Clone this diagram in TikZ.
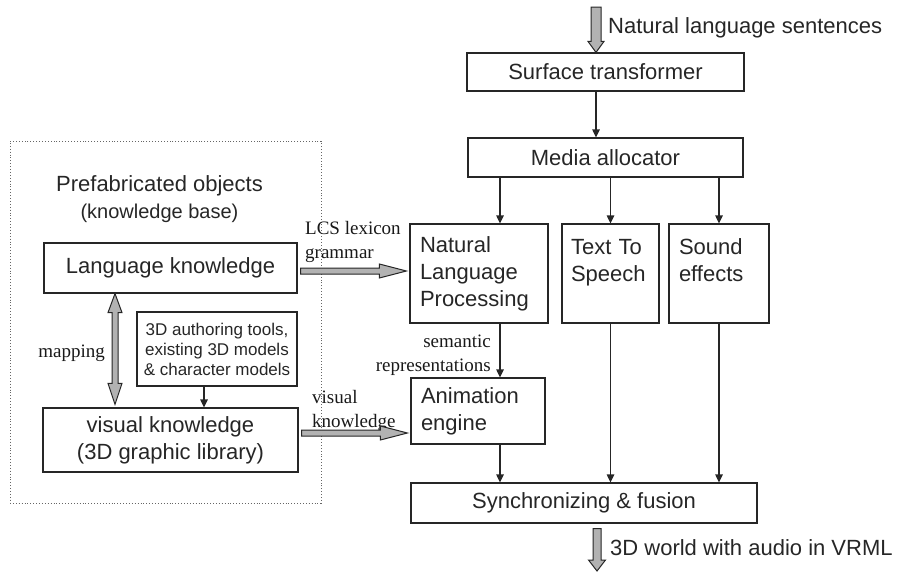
\documentclass[tikz,border=0pt]{standalone}
\usepackage{fontspec}
\setmainfont{Liberation Sans}
\newfontfamily\labelserif{Liberation Serif}
\usetikzlibrary{calc,arrows.meta}

% fat outlined arrow pointing down: start, tip, shaft half-width, head half-width, head length
\newcommand\fatdown[5]{%
  \filldraw[fat] ($(#1)+(-#3,0)$) -- ($(#2)+(-#3,-#5)$) -- ($(#2)+(-#4,-#5)$) -- (#2)
    -- ($(#2)+(#4,-#5)$) -- ($(#2)+(#3,-#5)$) -- ($(#1)+(#3,0)$) -- cycle;}
% fat outlined arrow pointing right
\newcommand\fatright[5]{%
  \filldraw[fat] ($(#1)+(0,-#3)$) -- ($(#2)+(-#5,-#3)$) -- ($(#2)+(-#5,-#4)$) -- (#2)
    -- ($(#2)+(-#5,#4)$) -- ($(#2)+(-#5,#3)$) -- ($(#1)+(0,#3)$) -- cycle;}

\begin{document}
\begin{tikzpicture}[x=1pt,y=-1pt,
  box/.style={draw=black!85, line width=1.2pt, inner sep=0pt,
    font=\fontsize{22}{27}\selectfont, text=black!85},
  lbox/.style={box, align=left, inner xsep=10pt, inner ysep=0pt},
  small/.style={font=\fontsize{17}{20}\selectfont},
  lab/.style={inner sep=0pt, font=\labelserif\fontsize{19}{24}\selectfont, text=black!90},
  plain/.style={inner sep=0pt, font=\fontsize{22}{27}\selectfont, text=black!85},
  conn/.style={draw=black!85, line width=1.2pt, -{Triangle[length=8pt,width=7.5pt]}},
  fat/.style={draw=black!85, line width=1pt, fill=black!30, line join=miter},
  frame/.style={draw=black!60, dotted, line width=0.9pt, inner sep=0pt}]
\useasboundingbox (0,0) rectangle (897,573);

% knowledge base frame
\node[frame, minimum width=311, minimum height=362] (kb) at (165.5,322) {};
\node[plain, align=center] (kbtitle) at (159.5,199.5)
  {Prefabricated objects\\{\fontsize{20}{24}\selectfont(knowledge base)}};

% left column
\node[box, minimum width=253, minimum height=50] (lk) at (170.5,268) {Language knowledge};
\node[box, small, align=center, minimum width=160, minimum height=74] (auth) at (217,349)
  {3D authoring tools,\\existing 3D models\\\& character models};
\node[box, align=center, minimum width=255, minimum height=64] (vk) at (170.5,440)
  {visual knowledge\\(3D graphic library)};

% right column
\node[box, minimum width=277, minimum height=38] (st) at (605.5,72) {Surface transformer};
\node[box, minimum width=275, minimum height=39] (ma) at (605.5,157.5) {Media allocator};
\node[lbox, text width=118, minimum height=99] (nlp) at (479,273.5)
  {Natural\\Language\\Processing};
\node[lbox, inner xsep=9pt, text width=79, minimum height=99] (tts) at (610.5,273.5)
  {Text To\\Speech\\~};
\node[lbox, text width=80, minimum height=99] (sfx) at (719,273.5)
  {Sound\\effects\\~};
\node[lbox, text width=114, minimum height=66] (ae) at (478,411)
  {Animation\\engine};
\node[box, minimum width=346, minimum height=40] (sync) at (584,503)
  {Synchronizing \& fusion};

% input and output labels
\node[plain, anchor=west] (inlab) at (608,28) {Natural language sentences};
\node[plain, anchor=west] (outlab) at (610,548) {3D world with audio in VRML};

% connector labels
\node[lab, anchor=west, align=left] (lcslab) at (305,242) {LCS lexicon\\grammar};
\node[lab, anchor=west, align=left] (vislab) at (312,411) {visual\\knowledge};
\node[lab, anchor=east] (maplab) at (105,353) {mapping};
\node[lab, anchor=east, align=right] (semlab) at (491,355) {semantic\\representations};

% x positions of the vertical connectors
\coordinate (inX) at (596,0);
\coordinate (nlpX) at (500,0);
\coordinate (authX) at (204,0);
\coordinate (mapX) at (115,0);
\coordinate (outX) at (597,0);

% thin connectors
\draw[conn] (st.south -| inX) -- (ma.north -| inX);
\draw[conn] (ma.south -| nlpX) -- (nlp.north -| nlpX);
\draw[conn] (ma.south -| tts) -- (tts.north);
\draw[conn] (ma.south -| sfx) -- (sfx.north);
\draw[conn] (nlp.south -| nlpX) -- (ae.north -| nlpX);
\draw[conn] (ae.south -| nlpX) -- (sync.north -| nlpX);
\draw[conn] (tts.south) -- (sync.north -| tts);
\draw[conn] (sfx.south) -- (sync.north -| sfx);
\draw[conn] (auth.south -| authX) -- (vk.north -| authX);

% fat input / output arrows
\coordinate (inA) at (596,7);
\coordinate (inB) at (st.north -| inA);
\fatdown{inA}{inB}{5}{8}{11}
\coordinate (outA) at ($(sync.south -| outX)+(0,5)$);
\coordinate (outB) at (597,571);
\fatdown{outA}{outB}{4}{8.5}{11}

% fat knowledge arrows
\coordinate (lcsA) at ($(lk.east)+(3,3)$);
\coordinate (lcsB) at ($(nlp.west |- lcsA)+(-3,0)$);
\fatright{lcsA}{lcsB}{3}{7}{27}
\coordinate (visA) at ($(vk.east)+(3,-7)$);
\coordinate (visB) at ($(ae.west |- visA)+(-3,0)$);
\fatright{visA}{visB}{3}{7}{27}

% double-headed mapping arrow
\coordinate (mapT) at (lk.south -| mapX);
\coordinate (mapB) at ($(vk.north -| mapX)+(0,-3)$);
\filldraw[fat] (mapT) -- ($(mapT)+(7,19)$) -- ($(mapT)+(3,19)$) -- ($(mapB)+(3,-21)$)
  -- ($(mapB)+(7,-21)$) -- (mapB) -- ($(mapB)+(-7,-21)$) -- ($(mapB)+(-3,-21)$)
  -- ($(mapT)+(-3,19)$) -- ($(mapT)+(-7,19)$) -- cycle;
\end{tikzpicture}
\end{document}
